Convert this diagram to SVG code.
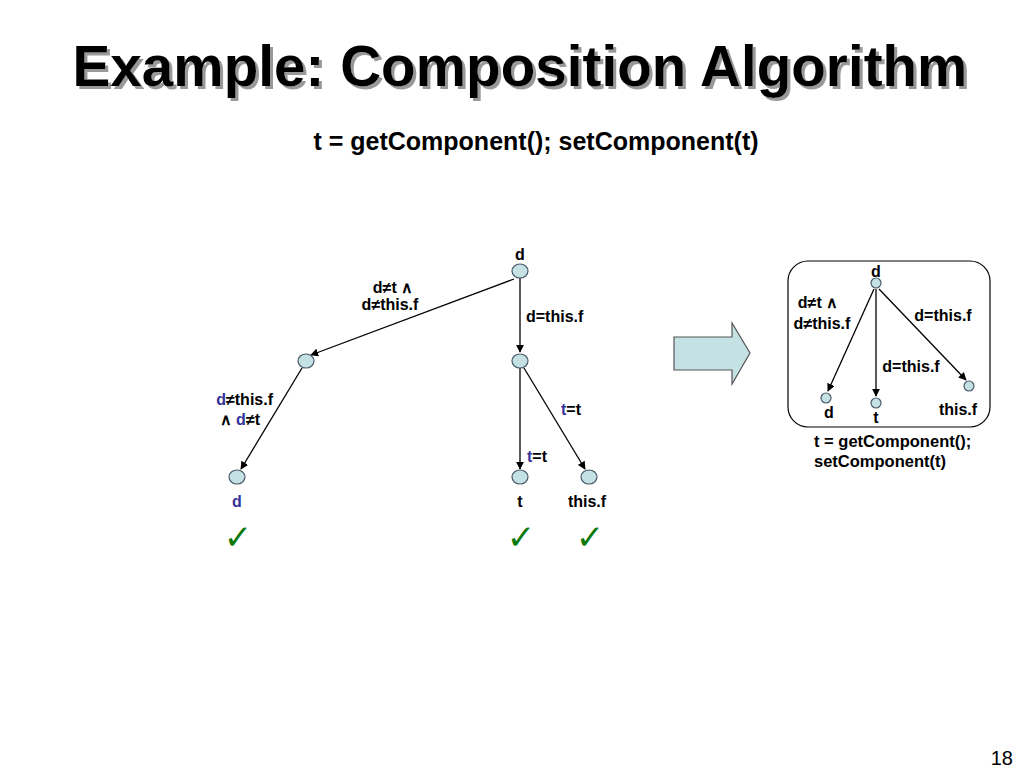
<svg xmlns="http://www.w3.org/2000/svg" width="1024" height="768" viewBox="0 0 1024 768">
<style>
text{font-family:"Liberation Sans",Arial,sans-serif;font-weight:bold;fill:#000}
.lbl{font-size:16px}
.sm{font-size:16px}
.blue{fill:#333399}
.node{fill:#c4e2e4;stroke:#4a5a6a;stroke-width:1.2}
.edge{stroke:#000;stroke-width:1.3;fill:none;marker-end:url(#ah)}
.chk{font-family:"DejaVu Sans",sans-serif;font-size:34px;fill:#0a7a0a;font-weight:bold}
</style>
<defs>
<marker id="ah" viewBox="0 0 10 10" refX="9" refY="5" markerWidth="8" markerHeight="8" orient="auto" markerUnits="userSpaceOnUse">
<path d="M0,0 L10,5 L0,10 z" fill="#000"/>
</marker>
<filter id="shadow" x="-5%" y="-20%" width="110%" height="140%">
<feOffset in="SourceAlpha" dx="3" dy="3" result="o"/>
<feFlood flood-color="#999"/>
<feComposite in2="o" operator="in" result="s"/>
<feMerge><feMergeNode in="s"/><feMergeNode in="SourceGraphic"/></feMerge>
</filter>
</defs>
<rect width="1024" height="768" fill="#fff"/>
<g id="title">
<text x="520" y="86" text-anchor="middle" textLength="895" lengthAdjust="spacingAndGlyphs" filter="url(#shadow)" style="font-size:58px">Example: Composition Algorithm</text>
<text x="536" y="150" text-anchor="middle" style="font-size:25px">t = getComponent(); setComponent(t)</text>
</g>
<g id="connectors">
<line class="edge" x1="514" y1="279" x2="311" y2="355"/>
<line class="edge" x1="520" y1="278" x2="520" y2="352"/>
<line class="edge" x1="302" y1="368" x2="241" y2="469"/>
<line class="edge" x1="520" y1="368" x2="520" y2="469"/>
<line class="edge" x1="524" y1="368" x2="585" y2="469"/>
<line class="edge" x1="874" y1="289" x2="828" y2="391"/>
<line class="edge" x1="876" y1="289" x2="876" y2="396"/>
<line class="edge" x1="879" y1="289" x2="966" y2="380"/>
</g>
<g id="n-root"><ellipse class="node" cx="520" cy="271" rx="8" ry="7"/><text x="520" y="260" text-anchor="middle" class="lbl">d</text></g>
<g id="n-midleft"><ellipse class="node" cx="306" cy="361" rx="8" ry="7"/></g>
<g id="n-midright"><ellipse class="node" cx="520" cy="361" rx="8" ry="7"/></g>
<g id="n-leaf-d"><ellipse class="node" cx="237" cy="477" rx="8" ry="7"/><text x="237" y="507" text-anchor="middle" class="lbl blue">d</text><text x="238" y="549" text-anchor="middle" class="chk">✓</text></g>
<g id="n-leaf-t"><ellipse class="node" cx="520" cy="477" rx="8" ry="7"/><text x="520" y="507" text-anchor="middle" class="lbl">t</text><text x="521" y="549" text-anchor="middle" class="chk">✓</text></g>
<g id="n-leaf-thisf"><ellipse class="node" cx="589" cy="477" rx="8" ry="7"/><text x="587" y="507" text-anchor="middle" class="lbl">this.f</text><text x="590" y="549" text-anchor="middle" class="chk">✓</text></g>
<g id="edge-labels">
<text x="393" y="293" text-anchor="middle" class="lbl">d≠t ∧</text>
<text x="390" y="310" text-anchor="middle" class="lbl">d≠this.f</text>
<text x="526" y="322" class="lbl">d=this.f</text>
<text x="273" y="405" text-anchor="end" class="lbl"><tspan class="blue">d</tspan>≠this.f</text>
<text x="260" y="425" text-anchor="end" class="lbl">∧ <tspan class="blue">d</tspan>≠t</text>
<text x="561" y="415" class="lbl"><tspan class="blue">t</tspan>=t</text>
<text x="527" y="462" class="lbl"><tspan class="blue">t</tspan>=t</text>
</g>
<g id="big-arrow">
<path d="M674,337 L732,337 L732,323 L750,353 L732,384 L732,370 L674,370 Z" fill="#c4e2e4" stroke="#555" stroke-width="1.2"/>
</g>
<g id="result-box">
<rect x="788" y="261" width="202" height="166" rx="20" ry="20" fill="none" stroke="#000" stroke-width="1.2"/>
</g>
<g id="r-root"><circle class="node" cx="876" cy="283" r="5"/><text x="876" y="277" text-anchor="middle" class="sm">d</text></g>
<g id="r-d"><circle class="node" cx="826" cy="398" r="5"/><text x="829" y="418" text-anchor="middle" class="sm">d</text></g>
<g id="r-t"><circle class="node" cx="876" cy="403" r="5"/><text x="876" y="423" text-anchor="middle" class="sm">t</text></g>
<g id="r-thisf"><circle class="node" cx="969" cy="386" r="5"/><text x="958" y="415" text-anchor="middle" class="sm">this.f</text></g>
<g id="r-labels">
<text x="818" y="308" text-anchor="middle" class="sm">d≠t ∧</text>
<text x="822" y="329" text-anchor="middle" class="sm">d≠this.f</text>
<text x="943" y="321" text-anchor="middle" class="sm">d=this.f</text>
<text x="911" y="372" text-anchor="middle" class="sm">d=this.f</text>
<text x="814" y="447" class="sm" style="font-size:16.5px">t = getComponent();</text>
<text x="814" y="467" class="sm" style="font-size:16.5px">setComponent(t)</text>
</g>
<text x="1013" y="765" text-anchor="end" style="font-size:20px;font-weight:normal">18</text>
</svg>
